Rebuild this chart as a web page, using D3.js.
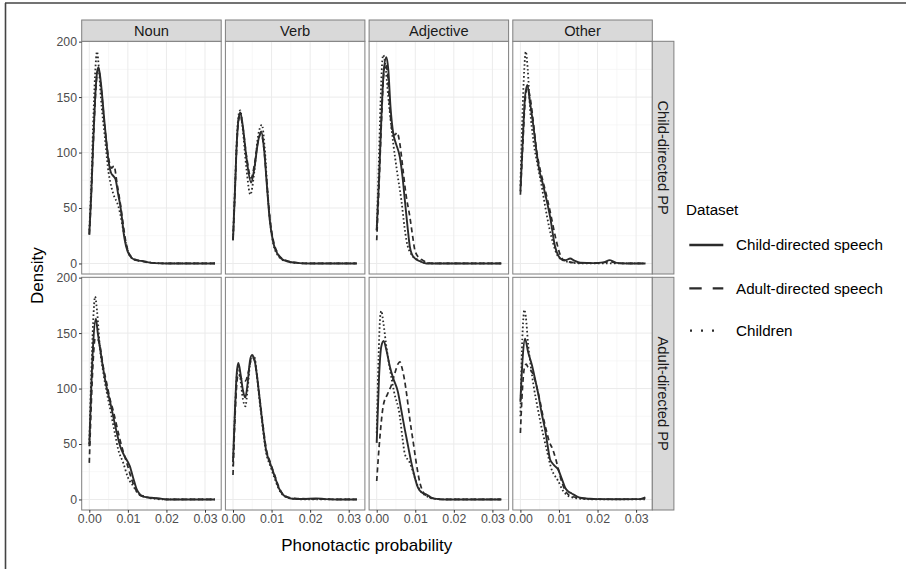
<!DOCTYPE html>
<html><head><meta charset="utf-8">
<script src="https://cdn.jsdelivr.net/npm/d3@7"></script>
<style>body{margin:0;background:#fff}svg{display:block;font-family:"Liberation Sans",Arial,sans-serif}</style>
</head><body>
<svg id="chart" width="906" height="569"></svg>
<script>
const categories = ["Noun", "Verb", "Adjective", "Other"];
const rowLabels = ["Child-directed PP", "Adult-directed PP"];
const datasets = ["Child-directed speech", "Adult-directed speech", "Children"];
const xTicks = [0, 0.01, 0.02, 0.03];
const xTickLabels = ["0.00", "0.01", "0.02", "0.03"];
const xMinor = [0.005, 0.015, 0.025];
const yTicks = [0, 50, 100, 150, 200];
const yMinor = [25, 75, 125, 175];

// Child-directed PP row: [phonotactic probability, density]
const nounCdpCds = [[0,26],[0.0005,62],[0.001,108],[0.0015,148],[0.002,172],[0.0024,177],[0.003,163],[0.004,125],[0.005,92],[0.0056,82],[0.0062,79],[0.0068,76],[0.0075,62],[0.008,53],[0.0085,40],[0.009,25],[0.0095,16],[0.0105,7],[0.012,3],[0.0135,2.3],[0.015,1.2],[0.017,0.3],[0.02,0],[0.0326,0]];
const nounCdpAds = [[0,26],[0.0005,60],[0.001,105],[0.0015,145],[0.002,170],[0.0024,175],[0.003,160],[0.004,124],[0.005,95],[0.0058,86],[0.0064,88],[0.0072,72],[0.008,55],[0.0088,35],[0.0095,19],[0.0105,8],[0.012,3.5],[0.0135,2.2],[0.015,1],[0.018,0.2],[0.02,0],[0.0326,0]];
const nounCdpChi = [[0,30],[0.0005,70],[0.001,125],[0.0015,170],[0.002,191],[0.0025,175],[0.003,150],[0.004,115],[0.005,82],[0.0058,68],[0.0065,60],[0.0072,55],[0.008,45],[0.0088,30],[0.0095,18],[0.0105,7],[0.012,3],[0.014,2],[0.016,0.8],[0.02,0],[0.0326,0]];

const verbCdpCds = [[0,21],[0.0005,65],[0.001,110],[0.0015,132],[0.0019,136],[0.0025,125],[0.0035,95],[0.0047,73],[0.0055,85],[0.0065,110],[0.0073,119],[0.008,105],[0.0088,70],[0.0095,40],[0.0105,18],[0.0115,9],[0.0125,4.5],[0.014,2],[0.016,0.8],[0.02,0],[0.0321,0]];
const verbCdpAds = [[0,21],[0.0005,63],[0.001,108],[0.0015,130],[0.0019,133],[0.0025,124],[0.0035,97],[0.0047,77],[0.0055,88],[0.0065,110],[0.0073,117],[0.008,104],[0.0088,72],[0.0095,43],[0.0105,20],[0.0115,10],[0.0125,5],[0.014,2.5],[0.016,1],[0.02,0],[0.0321,0]];
const verbCdpChi = [[0,22],[0.0005,67],[0.001,112],[0.0015,135],[0.0019,138],[0.0025,122],[0.0035,85],[0.0045,62],[0.0055,82],[0.0065,115],[0.0075,125],[0.0082,105],[0.009,62],[0.0097,35],[0.0105,17],[0.0115,8],[0.0125,4],[0.014,2],[0.016,0.5],[0.02,0],[0.0321,0]];

const adjCdpCds = [[0,30],[0.0006,75],[0.0012,130],[0.0018,172],[0.0025,186],[0.003,175],[0.0036,140],[0.0043,117],[0.005,108],[0.006,96],[0.0067,78],[0.0073,57],[0.008,33],[0.0086,15],[0.0095,6],[0.0112,2],[0.0129,0],[0.0323,0]];
const adjCdpAds = [[0,21],[0.0006,70],[0.0012,125],[0.0017,165],[0.0022,180],[0.0028,172],[0.0034,140],[0.004,120],[0.0047,116],[0.0053,118],[0.006,108],[0.0068,85],[0.0076,62],[0.0086,42],[0.0093,25],[0.0099,12],[0.011,5],[0.0119,3],[0.013,1],[0.015,0],[0.0323,0]];
const adjCdpChi = [[0,30],[0.0005,85],[0.001,145],[0.0014,180],[0.0017,188],[0.0022,180],[0.003,150],[0.0043,108],[0.0054,80],[0.0064,57],[0.0072,33],[0.0077,21],[0.009,8],[0.0103,4],[0.012,1],[0.014,0],[0.0323,0]];

const othCdpCds = [[0,65],[0.0006,110],[0.0012,150],[0.0018,161],[0.0025,145],[0.0034,123],[0.0042,100],[0.0051,81],[0.0058,72],[0.0064,63],[0.0077,42],[0.009,15],[0.01,6],[0.0107,3.6],[0.0118,3],[0.0129,4.5],[0.014,2.5],[0.0155,0.6],[0.019,0.3],[0.0215,1],[0.0232,3],[0.025,0.5],[0.028,0],[0.0324,0]];
const othCdpAds = [[0,62],[0.0006,105],[0.0012,145],[0.0018,158],[0.0025,150],[0.0034,126],[0.0042,102],[0.0051,85],[0.006,72],[0.007,58],[0.008,42],[0.0092,22],[0.0103,8],[0.0112,3],[0.0125,1.5],[0.015,0.5],[0.02,0.3],[0.0232,1.5],[0.026,0],[0.0324,0]];
const othCdpChi = [[0,70],[0.0005,130],[0.001,175],[0.0014,191],[0.0019,175],[0.0025,140],[0.0034,110],[0.0045,88],[0.0055,70],[0.0065,50],[0.0075,32],[0.0085,18],[0.0095,8],[0.011,3],[0.013,1],[0.016,0],[0.0324,0]];

// Adult-directed PP row
const nounAdpCds = [[0,48],[0.0005,100],[0.001,140],[0.0017,163],[0.0022,150],[0.0028,136],[0.0036,118],[0.0045,101],[0.0054,88],[0.0062,75],[0.007,62],[0.008,48],[0.009,40],[0.0105,30],[0.0115,18],[0.0123,9],[0.013,5],[0.014,2.5],[0.016,1.5],[0.0175,1.2],[0.019,0.5],[0.02,0],[0.0326,0]];
const nounAdpAds = [[0,33],[0.0005,85],[0.001,125],[0.0015,145],[0.002,145],[0.0028,138],[0.0036,120],[0.0045,105],[0.0054,90],[0.0062,80],[0.007,68],[0.0078,56],[0.0088,43],[0.0098,32],[0.011,18],[0.012,9],[0.013,4],[0.015,2],[0.018,0.8],[0.02,0],[0.0326,0]];
const nounAdpChi = [[0,50],[0.0005,110],[0.001,160],[0.0015,183],[0.002,170],[0.0028,135],[0.0036,115],[0.0045,97],[0.0055,80],[0.0065,62],[0.0075,45],[0.0088,33],[0.01,20],[0.0114,12],[0.0125,6],[0.014,3],[0.016,1],[0.02,0],[0.0326,0]];

const verbAdpCds = [[0,34],[0.0005,80],[0.001,115],[0.0014,123],[0.002,112],[0.0026,98],[0.0032,92],[0.0038,105],[0.0044,125],[0.0049,130],[0.0055,127],[0.0062,112],[0.0068,94],[0.0076,70],[0.0086,44],[0.0097,32],[0.0108,21],[0.0118,11],[0.0129,4.5],[0.014,2],[0.0155,0.6],[0.018,0.4],[0.0215,1],[0.024,0.3],[0.027,0],[0.0321,0]];
const verbAdpAds = [[0,22],[0.0005,72],[0.001,105],[0.0014,113],[0.002,110],[0.0026,108],[0.0032,107],[0.0038,112],[0.0044,122],[0.005,128],[0.0056,125],[0.0062,112],[0.0068,95],[0.0076,72],[0.0086,46],[0.0097,33],[0.0108,22],[0.0118,12],[0.0129,5],[0.014,2.5],[0.016,1],[0.02,0.5],[0.023,0.3],[0.0321,0]];
const verbAdpChi = [[0,30],[0.0005,78],[0.001,112],[0.0014,120],[0.002,106],[0.0026,90],[0.0032,84],[0.0038,100],[0.0044,122],[0.005,130],[0.0056,128],[0.0062,112],[0.0068,92],[0.0076,68],[0.0086,42],[0.0097,30],[0.0108,19],[0.0118,10],[0.0129,4],[0.014,2],[0.016,0.5],[0.02,0],[0.0321,0]];

const adjAdpCds = [[0,51],[0.0006,110],[0.0012,138],[0.0018,143],[0.0025,135],[0.0034,120],[0.0043,109],[0.0055,97],[0.0064,80],[0.0073,63],[0.0082,47],[0.009,33],[0.0098,21],[0.0107,10.6],[0.0118,6],[0.0129,4.5],[0.014,2],[0.0155,0.5],[0.018,0],[0.0323,0]];
const adjAdpAds = [[0,16.6],[0.0008,55],[0.0017,84.5],[0.0028,95],[0.0038,103],[0.0048,115],[0.0055,122],[0.006,124],[0.0066,118],[0.0072,108],[0.0078,94],[0.0086,72],[0.0095,51],[0.0103,32],[0.0112,15],[0.012,7],[0.0129,3],[0.014,1.5],[0.016,0.3],[0.018,0],[0.0323,0]];
const adjAdpChi = [[0,60],[0.0005,130],[0.0009,165],[0.0012,170],[0.0017,160],[0.0025,138],[0.0034,118],[0.0045,97],[0.006,75],[0.0067,55],[0.0073,41],[0.0086,33],[0.0095,24],[0.0103,15],[0.0115,7],[0.013,3],[0.015,0.5],[0.018,0],[0.0323,0]];

const othAdpCds = [[0,88],[0.0006,128],[0.0012,145],[0.002,133],[0.003,121],[0.0039,107],[0.0047,94],[0.0055,78],[0.0064,63],[0.007,50],[0.0077,36],[0.0087,31],[0.0098,27],[0.0107,19],[0.0116,10.6],[0.0125,7],[0.0133,5.4],[0.0145,3],[0.0155,1.5],[0.018,0.6],[0.02,0.3],[0.025,0.2],[0.03,0.3],[0.0315,0.8],[0.0324,1.8]];
const othAdpAds = [[0,60],[0.0005,98],[0.001,118],[0.0015,122],[0.002,119],[0.0026,117],[0.0034,112],[0.0042,102],[0.005,90],[0.0058,76],[0.0066,64],[0.0075,52],[0.0084,45],[0.0092,36],[0.01,25],[0.0108,15],[0.0118,7],[0.013,3],[0.015,1.5],[0.018,0.5],[0.022,0.2],[0.03,0.2],[0.0324,1]];
const othAdpChi = [[0,75],[0.0004,135],[0.0008,165],[0.001,171],[0.0014,165],[0.002,140],[0.0027,120],[0.0034,103],[0.0045,82],[0.0053,68],[0.006,57],[0.007,42],[0.0081,27],[0.009,21],[0.0098,16.6],[0.011,8],[0.0125,3],[0.014,1.5],[0.017,0.3],[0.02,0],[0.0324,0]];

const panelData = [
  [[nounCdpCds,nounCdpAds,nounCdpChi],[verbCdpCds,verbCdpAds,verbCdpChi],[adjCdpCds,adjCdpAds,adjCdpChi],[othCdpCds,othCdpAds,othCdpChi]],
  [[nounAdpCds,nounAdpAds,nounAdpChi],[verbAdpCds,verbAdpAds,verbAdpChi],[adjAdpCds,adjAdpAds,adjAdpChi],[othAdpCds,othAdpAds,othAdpChi]]
];

const svg = d3.select("#chart");
const panelLefts = [81.7, 225.4, 369.1, 512.8];
const panelW = 139.5;
const rowTops = [41.3, 277.3];
const panelH = 232.7;
const stripTop = 20;
const borderCol = "#7f7f7f";
const lineCol = "#2b2b2b";
const dashStyles = [null, "5,3.5", "1.6,2.4"];
const lineWidths = [1.9, 1.7, 1.8];

svg.append("line").attr("x1",5).attr("x2",906).attr("y1",3).attr("y2",3).attr("stroke","#444").attr("stroke-width",1.6);
svg.append("line").attr("x1",5.5).attr("x2",5.5).attr("y1",3).attr("y2",569).attr("stroke","#444").attr("stroke-width",1.6);

const x = d3.scaleLinear().domain([-0.00197, 0.0342]);
const y = d3.scaleLinear().domain([-9.5, 200.3]);

rowLabels.forEach((rl, r) => {
  categories.forEach((cat, c) => {
    const left = panelLefts[c], top = rowTops[r];
    const xs = x.copy().range([left, left + panelW]);
    const ys = y.copy().range([top + panelH, top]);
    const g = svg.append("g");
    g.append("rect").attr("x",left).attr("y",top).attr("width",panelW).attr("height",panelH).attr("fill","#fff");
    xMinor.forEach(v => g.append("line").attr("x1",xs(v)).attr("x2",xs(v)).attr("y1",top).attr("y2",top+panelH).attr("stroke","#f1f1f1").attr("stroke-width",0.6));
    yMinor.forEach(v => g.append("line").attr("x1",left).attr("x2",left+panelW).attr("y1",ys(v)).attr("y2",ys(v)).attr("stroke","#f1f1f1").attr("stroke-width",0.6));
    xTicks.forEach(v => g.append("line").attr("x1",xs(v)).attr("x2",xs(v)).attr("y1",top).attr("y2",top+panelH).attr("stroke","#ebebeb").attr("stroke-width",1));
    yTicks.forEach(v => g.append("line").attr("x1",left).attr("x2",left+panelW).attr("y1",ys(v)).attr("y2",ys(v)).attr("stroke","#ebebeb").attr("stroke-width",1));
    const line = d3.line().x(d => xs(d[0])).y(d => ys(d[1])).curve(d3.curveMonotoneX);
    [2,1,0].forEach(s => {
      const p = g.append("path").attr("d", line(panelData[r][c][s])).attr("fill","none")
        .attr("stroke", lineCol).attr("stroke-width", lineWidths[s]);
      if (dashStyles[s]) p.attr("stroke-dasharray", dashStyles[s]);
    });
    g.append("rect").attr("x",left).attr("y",top).attr("width",panelW).attr("height",panelH).attr("fill","none").attr("stroke",borderCol).attr("stroke-width",1);
    if (c === 0) {
      const ax = g.append("g").attr("transform",`translate(${left},0)`)
        .call(d3.axisLeft(ys).tickValues(yTicks).tickSize(2.7).tickPadding(2));
      ax.select(".domain").remove();
      ax.selectAll(".tick line").attr("stroke","#333");
      ax.selectAll(".tick text").attr("fill","#4d4d4d").style("font-size","12.3px").style("font-family","Liberation Sans, Arial, sans-serif");
    }
    if (r === 1) {
      const ax = g.append("g").attr("transform",`translate(0,${top+panelH})`)
        .call(d3.axisBottom(xs).tickValues(xTicks).tickFormat((d,i)=>xTickLabels[i]).tickSize(2.7).tickPadding(2));
      ax.select(".domain").remove();
      ax.selectAll(".tick line").attr("stroke","#333");
      ax.selectAll(".tick text").attr("fill","#4d4d4d").style("font-size","12.3px").style("font-family","Liberation Sans, Arial, sans-serif");
    }
    if (r === 0) {
      g.append("rect").attr("x",left).attr("y",stripTop).attr("width",panelW).attr("height",top-stripTop).attr("fill","#d9d9d9").attr("stroke",borderCol).attr("stroke-width",1);
      g.append("text").attr("x",left+panelW/2).attr("y",(stripTop+top)/2).attr("dy","0.35em").attr("text-anchor","middle")
        .style("font-size","14.7px").attr("fill","#1a1a1a").text(cat);
    }
    if (c === 3) {
      const sx = left + panelW, sw = 21.6;
      g.append("rect").attr("x",sx).attr("y",top).attr("width",sw).attr("height",panelH).attr("fill","#d9d9d9").attr("stroke",borderCol).attr("stroke-width",1);
      g.append("text").attr("transform",`translate(${sx+sw/2},${top+panelH/2}) rotate(90)`).attr("dy","0.35em").attr("text-anchor","middle")
        .style("font-size","14.7px").attr("fill","#1a1a1a").text(rl);
    }
  });
});

svg.append("text").attr("transform","translate(37,275.6) rotate(-90)").attr("dy","0.35em").attr("text-anchor","middle")
  .style("font-size","17px").attr("fill","#000").text("Density");
svg.append("text").attr("x",366.7).attr("y",545).attr("dy","0.35em").attr("text-anchor","middle")
  .style("font-size","17px").attr("fill","#000").text("Phonotactic probability");

svg.append("text").attr("x",686).attr("y",210).attr("dy","0.35em").style("font-size","15.2px").attr("fill","#000").text("Dataset");
const legendY = [245, 288.3, 330.7];
const legendDash = [null, "12.4,11", "2,9"];
const legendX1 = [689.3, 689.3, 690];
const legendX2 = [723.3, 723.3, 716];
datasets.forEach((ds, i) => {
  const l = svg.append("line").attr("x1",legendX1[i]).attr("x2",legendX2[i]).attr("y1",legendY[i]).attr("y2",legendY[i])
    .attr("stroke",lineCol).attr("stroke-width",2.3);
  if (legendDash[i]) l.attr("stroke-dasharray", legendDash[i]);
  svg.append("text").attr("x",736).attr("y",legendY[i]).attr("dy","0.35em").style("font-size","15.2px").attr("fill","#000").text(ds);
});
</script>
</body></html>
